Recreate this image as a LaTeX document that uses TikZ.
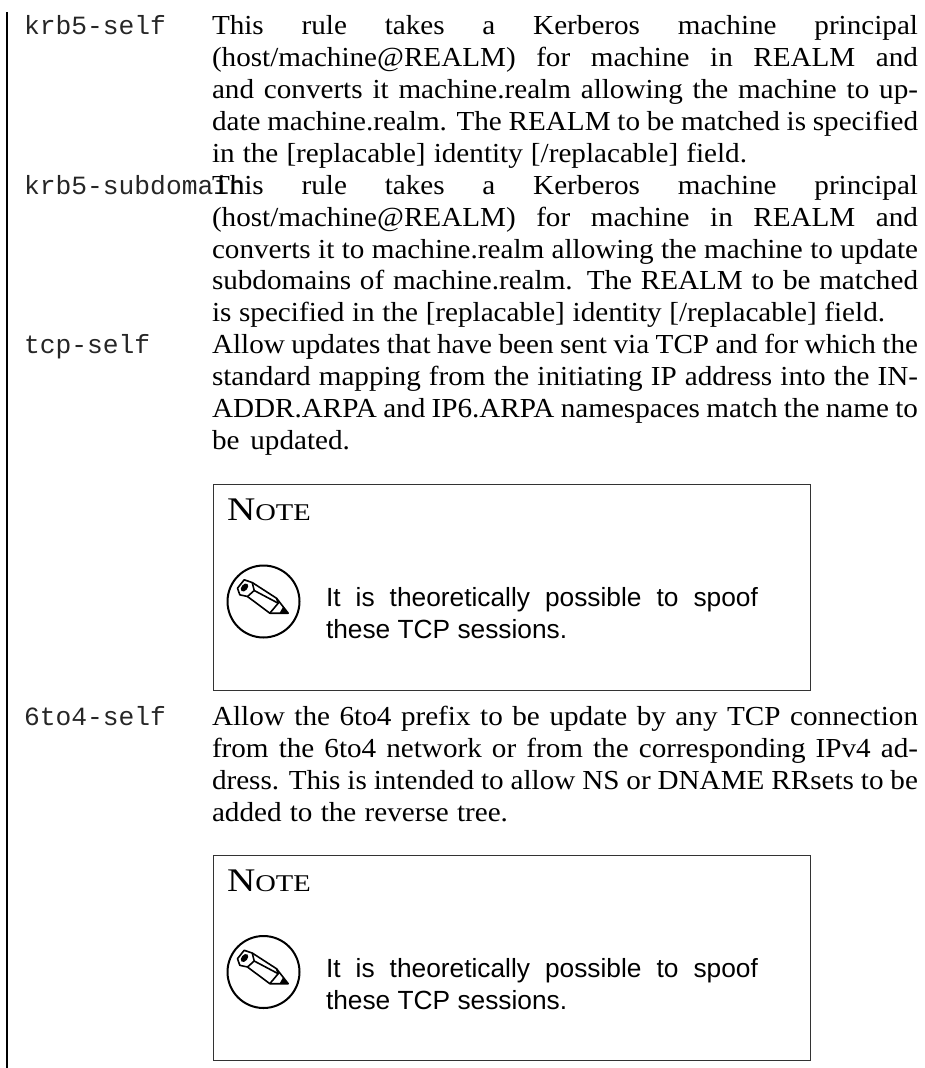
\documentclass[tikz,border=0pt]{standalone}
\usepackage{fontspec}
\setmainfont[FakeStretch=1.06]{Liberation Serif}
\newfontfamily\labelfont{Liberation Mono}
\newfontfamily\notefont{Liberation Sans}
\tikzset{
  bodytext/.style={anchor=base west,inner sep=0pt,outer sep=0pt,font=\fontsize{27.5}{32}\selectfont},
  termtext/.style={anchor=base west,inner sep=0pt,outer sep=0pt,text=black!85,font=\labelfont\fontsize{26.3}{32}\selectfont},
  sanstext/.style={anchor=base west,inner sep=0pt,outer sep=0pt,font=\notefont\fontsize{26.3}{32}\selectfont},
  notehead/.style={anchor=base west,inner sep=0pt,outer sep=0pt},
  notebox/.style={draw=black!80,line width=1pt},
  icon/.style={draw=black,line width=1.6pt,line join=round},
}
\newcommand\fullline[3]{\node[bodytext] (#1) at (212,#2) {\makebox[706pt][s]{#3}};}
\newcommand\lastline[4]{\node[bodytext] (#1) at (212,#2) {\makebox[#3pt][s]{#4}};}
\newcommand\notehd{\scalebox{1.12}[1]{\fontsize{33}{32}\selectfont N\fontsize{24}{32}\selectfont OTE}}
\newcommand\pencilicon[2]{%
  \begin{scope}[shift={(#1,#2)}]
    \draw[icon,line width=2pt] (0,0) circle (36);
    \draw[icon] (-26,-13.3) -- (-19.3,-21.7) -- (-11.3,-19) -- (-9.3,-11) -- (-16,-5) -- (-23.7,-6.7) -- cycle;
    \draw[icon] (-11.3,-19) -- (13,-3.3) -- (24.7,11.7) -- (6.3,11.7) -- (-16,-5);
    \draw[icon] (-9.3,-11) -- (14.7,1.7);
    \draw[icon] (13,-3.3) -- (14.7,1.7) -- (6.3,11.7);
    \fill[black] (19.5,5.5) -- (24.7,11.7) -- (16,11.7) -- cycle;
    \fill[black,rotate around={50:(-19,-14)}] (-19,-14) ellipse (4.6 and 3);
  \end{scope}}
\begin{document}
\begin{tikzpicture}[x=1pt,y=-1pt]
  \useasboundingbox (0,0) rectangle (925,1068);
  \coordinate (ruletop) at (7,12);
  \coordinate (rulebot) at (7,1068);
  \draw[black,line width=1.3pt] (ruletop) -- (rulebot);

  \node[termtext] (t1) at (24,34) {krb5-self};
  \fullline{a1}{34}{This rule takes a Kerberos machine principal}
  \fullline{a2}{66}{(host/machine@REALM) for machine in REALM and}
  \fullline{a3}{98}{and converts it machine.realm allowing the machine to up-}
  \fullline{a4}{130}{date machine.realm. The REALM to be matched is specified}
  \lastline{a5}{162}{535}{in the [replacable] identity [/replacable] field.}

  \node[termtext] (t2) at (24,194) {krb5-subdomain};
  \fullline{b1}{194}{This rule takes a Kerberos machine principal}
  \fullline{b2}{226}{(host/machine@REALM) for machine in REALM and}
  \fullline{b3}{258}{converts it to machine.realm allowing the machine to update}
  \fullline{b4}{289.5}{subdomains of machine.realm. The REALM to be matched}
  \lastline{b5}{321.5}{673}{is specified in the [replacable] identity [/replacable] field.}

  \node[termtext] (t3) at (24,353) {tcp-self};
  \fullline{c1}{353}{Allow updates that have been sent via TCP and for which the}
  \fullline{c2}{385}{standard mapping from the initiating IP address into the IN-}
  \fullline{c3}{417}{ADDR.ARPA and IP6.ARPA namespaces match the name to}
  \lastline{c4}{449}{138}{be updated.}

  \draw[notebox] (213,484) rectangle (810.5,690);
  \node[notehead] (n1) at (227,520) {\notehd};
  \pencilicon{263.5}{601.5}
  \node[sanstext] (s1) at (326,606) {\makebox[432pt][s]{It is theoretically possible to spoof}};
  \node[sanstext] (s2) at (326,638) {these TCP sessions.};

  \node[termtext] (t4) at (24,725) {6to4-self};
  \fullline{d1}{725}{Allow the 6to4 prefix to be update by any TCP connection}
  \fullline{d2}{757}{from the 6to4 network or from the corresponding IPv4 ad-}
  \fullline{d3}{789}{dress. This is intended to allow NS or DNAME RRsets to be}
  \lastline{d4}{821}{296}{added to the reverse tree.}

  \draw[notebox] (213,855.5) rectangle (810.5,1060.5);
  \node[notehead] (n2) at (227,891) {\notehd};
  \pencilicon{263.5}{972}
  \node[sanstext] (s3) at (326,977) {\makebox[432pt][s]{It is theoretically possible to spoof}};
  \node[sanstext] (s4) at (326,1009) {these TCP sessions.};
\end{tikzpicture}
\end{document}
